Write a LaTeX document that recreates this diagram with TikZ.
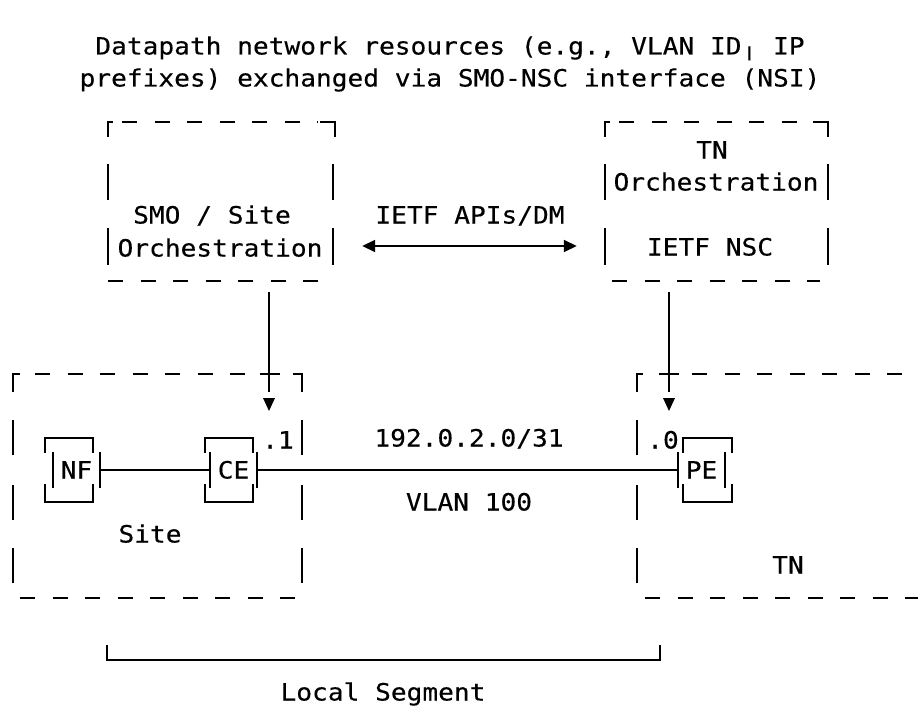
\documentclass[tikz,border=0pt]{standalone}
\usepackage{fontspec}
\setmonofont[FakeStretch=1.1,FakeBold=0.3]{DejaVu Sans Mono}
\usetikzlibrary{arrows.meta}
\begin{document}
\begin{tikzpicture}[x=1pt,y=-1pt,
  ln/.style={line width=1.7pt, line cap=butt},
  dsh/.style={ln, dash pattern=on 15pt off 17.5pt},
  txt/.style={font=\ttfamily\fontsize{23.8}{28}\selectfont, inner sep=0pt, text height=17pt, text depth=0pt, anchor=center},
  ep/.style={txt, minimum width=47pt, minimum height=36pt},
  dblarr/.style={ln, {Triangle[length=13pt,width=12pt]}-{Triangle[length=13pt,width=12pt]}}
]
\useasboundingbox[fill=white] (0,0) rectangle (918,706);

% title
\node[txt] (title1) at (450,46) {Datapath network resources (e.g., VLAN ID╷ IP};
\node[txt] (title2) at (450,78) {prefixes) exchanged via SMO-NSC interface (NSI)};

% SMO box (outline anchor) and TN orchestration box
\node[minimum width=227pt, minimum height=159pt, inner sep=0pt] (smo) at (221.5,201.5) {};
\node[minimum width=223pt, minimum height=159pt, inner sep=0pt] (tno) at (716.5,201.5) {};

% SMO box drawing
\draw[ln] (108,137) -- (108,122) -- (113,122);
\draw[dsh] (122,122) -- (318,122);
\draw[ln] (320,122) -- (335,122) -- (335,137);
\draw[ln] (108,164) -- (108,200) (108,228) -- (108,265);
\draw[ln] (333,164) -- (333,200) (333,228) -- (333,265);
\draw[dsh] (108,281) -- (323,281);
\node[txt] (smo1) at (212,215) {SMO / Site};
\node[txt] (smo2) at (220,248) {Orchestration};

% TN orchestration box drawing
\draw[ln] (605,137) -- (605,122) -- (610,122);
\draw[dsh] (619,122) -- (812,122);
\draw[ln] (813,122) -- (828,122) -- (828,137);
\draw[ln] (605,164) -- (605,200) (605,228) -- (605,265);
\draw[ln] (828,164) -- (828,200) (828,228) -- (828,265);
\draw[dsh] (612,281) -- (820,281);
\node[txt] (tno1) at (712,150) {TN};
\node[txt] (tno2) at (716,182) {Orchestration};
\node[txt] (tno3) at (710,247) {IETF NSC};

% API arrow
\coordinate (api) at (0,246);
\node[txt] (apilbl) at (470,215) {IETF APIs/DM};
\draw[dblarr, shorten <=27pt, shorten >=28pt] (smo.east |- api) -- (tno.west |- api);

% vertical arrows
\coordinate (smoOut) at (269,292);
\coordinate (smoIn) at (269,392);
\coordinate (tnOut) at (669,292);
\coordinate (tnIn) at (669,392);
\draw[ln] (smoOut) -- (smoIn);
\draw[ln] (tnOut) -- (tnIn);
\fill ([shift={(-6,6)}]smoIn) -- ++(12,0) -- ++(-6,13) -- cycle;
\fill ([shift={(-6,6)}]tnIn) -- ++(12,0) -- ++(-6,13) -- cycle;

% Site box
\draw[ln] (13,392) -- (13,374) -- (20,374);
\draw[dsh] (35,374) -- (245,374);
\draw[ln] (260,374) -- (280,374);
\draw[ln] (293,374) -- (302,374) -- (302,392);
\foreach \x in {13,302} {
  \draw[ln] (\x,420) -- (\x,455) (\x,485) -- (\x,520) (\x,548) -- (\x,583);
}
\draw[dsh] (20,598) -- (295,598);
\node[txt] (sitelbl) at (150,534) {Site};

% TN box
\draw[ln] (637,392) -- (637,374) -- (643,374);
\draw[ln] (659,374) -- (679,374);
\draw[dsh] (692,374) -- (918,374);
\draw[ln] (637,420) -- (637,455) (637,485) -- (637,520) (637,548) -- (637,583);
\draw[dsh] (645,598) -- (918,598);
\node[txt] (tnlbl) at (788,565) {TN};

% endpoints
\node[ep] (NF) at (76.5,470) {NF};
\node[ep] (CE) at (233.5,470) {CE};
\node[ep] (PE) at (701.5,470) {PE};
\foreach \n in {NF,CE,PE} {
  \draw[ln] (\n.north west) -- (\n.south west) (\n.north east) -- (\n.south east);
}
\foreach \a/\b in {45/93,205/253,683/732} {
  \draw[ln] (\a,453) -- (\a,438) -- (\b,438) -- (\b,453);
  \draw[ln] (\a,484) -- (\a,502) -- (\b,502) -- (\b,484);
}
\draw[ln] (NF.east) -- (CE.west);
\draw[ln] (CE.east) -- (PE.west);
\node[txt] (ip1) at (278,440) {.1};
\node[txt] (ip0) at (663,440) {.0};
\node[txt] (subnet) at (469,438) {192.0.2.0/31};
\node[txt] (vlan) at (469,502) {VLAN 100};

% local segment bracket
\coordinate (segL) at (107,645);
\coordinate (segR) at (660,645);
\draw[ln] (segL) -- ++(0,15) -| (segR);
\node[txt] (seg) at (383,692) {Local Segment};
\end{tikzpicture}
\end{document}
